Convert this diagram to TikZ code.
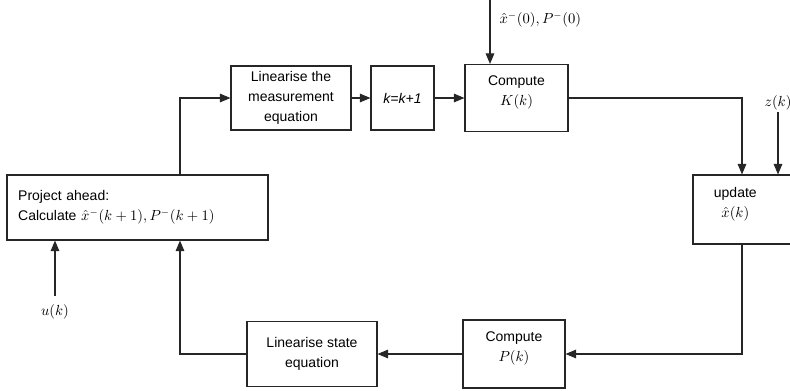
\documentclass[tikz,border=0pt]{standalone}
\usepackage{fontspec}
\setmainfont{Liberation Sans}
\usetikzlibrary{arrows.meta}

\tikzset{
  blk/.style={draw=black!85, line width=0.8pt, align=center, inner sep=2pt,
    font=\fontsize{10.5}{15}\selectfont},
  up/.style={text depth=11pt},
  arr/.style={-{Triangle[length=8pt,width=6.5pt]}, line width=0.8pt, draw=black!85},
  lbl/.style={font=\fontsize{10.5}{12.5}\selectfont, inner sep=1pt}
}

\begin{document}
\begin{tikzpicture}[x=0.75pt,y=-0.75pt]
\useasboundingbox (0,0) rectangle (790,390);

% blocks
\node[blk, minimum width=195.75pt, minimum height=48.75pt, text width=179pt, align=left]
  (proj) at (137.5,207.5) {Project ahead:\\ Calculate $\hat{x}^{-}(k+1), P^{-}(k+1)$\par\vspace{10pt}};
\node[blk, minimum width=90pt, minimum height=48pt] (linm) at (291,98)
  {Linearise the\\measurement\\equation};
\node[blk, minimum width=47.25pt, minimum height=48pt] (kk) at (402.5,98) {\textit{k=k+1}};
\node[blk, up, minimum width=77.25pt, minimum height=50.25pt] (compK) at (516.5,98)
  {Compute\\$K(k)$};
\node[blk, up, minimum width=73.5pt, minimum height=51.75pt] (upd) at (742,209.5)
  {update\hspace*{10pt}\\$\hat{x}(k)$\hspace*{10pt}};
\node[blk, up, minimum width=76.5pt, minimum height=51pt] (compP) at (514,354)
  {Compute\\$P(k)$};
\node[blk, minimum width=97.5pt, minimum height=48.75pt] (lins) at (312,354)
  {Linearise state\\equation};

% inputs
\coordinate (x0top) at (490,0);
\node[lbl, anchor=west] (x0) at (498,20) {$\hat{x}^{-}(0), P^{-}(0)$};
\node[lbl] (zk) at (778,103) {$z(k)$};
\node[lbl] (uk) at (55,312) {$u(k)$};

% connectors
\draw[arr] ([xshift=31.875pt]proj.north) |- (linm.west);
\draw[arr] (linm) -- (kk);
\draw[arr] (kk) -- (compK);
\draw[arr] (x0top) -- (x0top |- compK.north);
\draw[arr] (compK.east) -| (upd.north);
\draw[arr] (zk.south) -- (zk.south |- upd.north);
\draw[arr] (upd.south) |- (compP.east);
\draw[arr] (compP) -- (lins);
\draw[arr] (lins.west) -| ([xshift=31.875pt]proj.south);
\draw[arr] ([yshift=5pt]uk.north) -- (uk.north |- proj.south);

\end{tikzpicture}
\end{document}
